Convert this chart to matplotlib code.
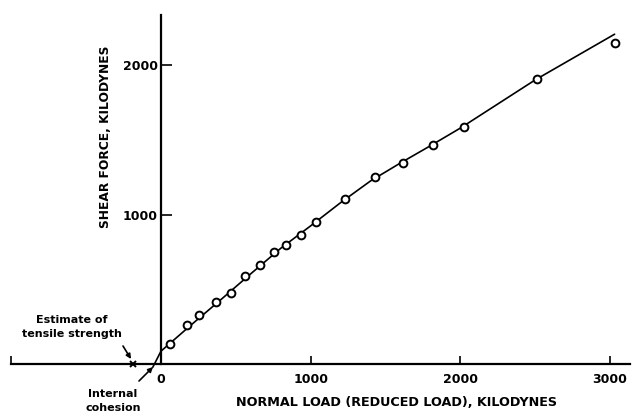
import matplotlib
matplotlib.use("Agg")
import matplotlib.pyplot as plt

# Data (kilodynes)
normal_load = [60, 171, 253, 367, 465, 562, 664, 757, 833, 933, 1033, 1229, 1429,
               1617, 1817, 2023, 2511, 3030]
shear_force = [138, 260, 329, 415, 478, 593, 662, 749, 795, 867, 948, 1105, 1253,
               1345, 1467, 1587, 1909, 2145]

curve_x = [-55, 0, 60, 200, 400, 600, 800, 1000, 1200, 1400, 1600, 1800, 2000, 2500, 3030]
curve_y = [-20, 88, 140, 262, 432, 605, 775, 925, 1080, 1225, 1345, 1460, 1578, 1900, 2205]

tensile_estimate = -187
x_ticks = [-1000, 0, 1000, 2000, 3000]
x_tick_labels = ["", "0", "1000", "2000", "3000"]
y_ticks = [1000, 2000]
y_tick_labels = ["1000", "2000"]

W, H = 635, 413
fig = plt.figure(figsize=(W / 100, H / 100), dpi=100)
ax = fig.add_axes([0, 0, 1, 1])

# pixel mapping: x_px = 161 + 0.1497*x ; y_px(from top) = 364.3 - 0.1497*y
sx = 0.1497
ax.set_xlim(-161 / sx, (W - 161) / sx)
ax.set_ylim((364.3 - H) / sx, 364.3 / sx)

font = dict(family=["DejaVu Sans"], fontweight="bold")

for s in ["top", "right"]:
    ax.spines[s].set_visible(False)
ax.spines["left"].set_position(("data", 0))
ax.spines["bottom"].set_position(("data", 0))
ax.spines["left"].set_bounds(0, 2333)
ax.spines["bottom"].set_bounds(-1000, 3130)
for s in ["left", "bottom"]:
    ax.spines[s].set_linewidth(1.6)
    ax.spines[s].set_color("black")

ax.set_xticks(x_ticks)
ax.set_xticklabels(x_tick_labels)
ax.set_yticks(y_ticks)
ax.set_yticklabels(y_tick_labels)
ax.tick_params(axis="x", direction="in", length=6, width=1.2, pad=6, labelsize=9)
ax.tick_params(axis="y", direction="in", length=8, width=1.2, pad=2.5, labelsize=9)
for lab in ax.get_xticklabels() + ax.get_yticklabels():
    lab.set_fontweight("bold")
    lab.set_family("DejaVu Sans")

ax.plot(curve_x, curve_y, color="black", lw=1.2, solid_capstyle="round")
ax.plot(normal_load, shear_force, linestyle="none", marker="o", markersize=5.6,
        markerfacecolor="white", markeredgecolor="black", markeredgewidth=1.4)
ax.plot([tensile_estimate], [0], marker="x", color="black", markersize=4, mew=1.4,
        linestyle="none")

def px(xp, yp):
    # convert pixel (from top-left) to data
    return (xp - 161) / sx, (364.3 - yp) / sx

# Axis titles
fig.text(397 / W, 1 - 402 / H, "NORMAL LOAD (REDUCED LOAD), KILODYNES",
         ha="center", va="center", fontsize=9.2, **font)
fig.text(105 / W, 1 - 137 / H, "SHEAR FORCE, KILODYNES", rotation=90,
         ha="center", va="center", fontsize=8.8, **font)

# Annotations
ax.text(*px(72, 327), "Estimate of\ntensile strength", ha="center", va="center",
        fontsize=8, linespacing=1.45, **font)
ax.text(*px(113, 401), "Internal\ncohesion", ha="center", va="center",
        fontsize=8, linespacing=1.45, **font)
arrow = dict(arrowstyle="-|>", color="black", lw=1.2, shrinkA=0, shrinkB=0,
             mutation_scale=7)
ax.annotate("", xy=px(131, 359), xytext=px(123, 346), arrowprops=arrow)
ax.annotate("", xy=px(153, 367), xytext=px(139, 381), arrowprops=arrow)

fig.savefig("out.png", dpi=100)
